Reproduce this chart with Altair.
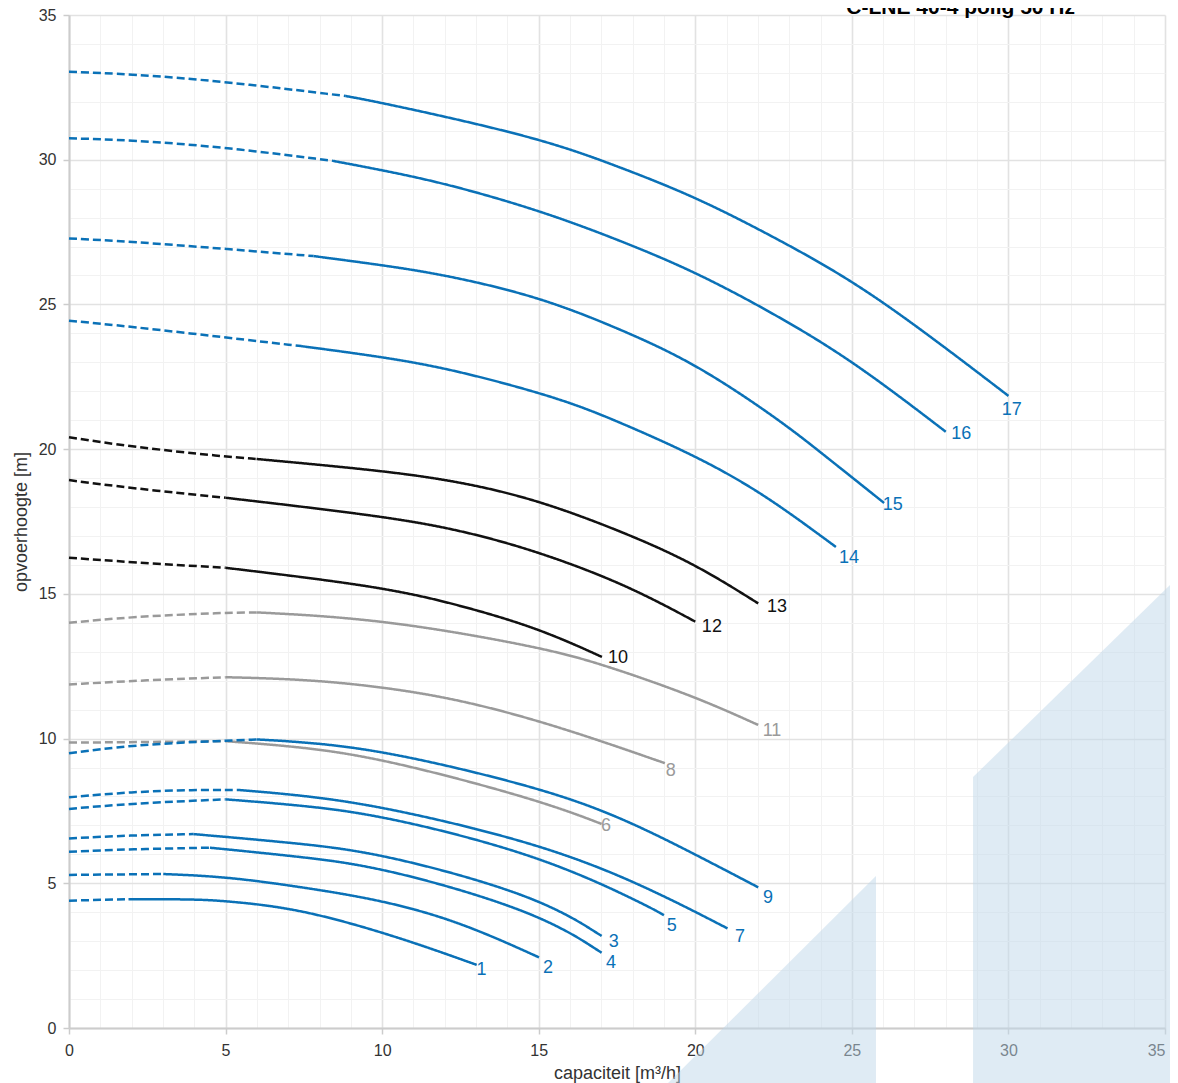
import altair as alt
import pandas as pd

# ---------------- data ----------------
title_text = "C-LNE 40-4 polig 50 Hz"

curve_ids = ["1", "2", "3", "4", "5", "6", "7", "8", "9", "10", "11", "12", "13", "14", "15", "16", "17"]
curve_group = ["blue", "blue", "blue", "blue", "blue", "gray", "blue", "gray", "blue",
               "black", "gray", "black", "black", "blue", "blue", "blue", "blue"]
dash_end = [1.9, 3.01, 3.97, 4.5, 5, 5, 5.46, 5, 5.99, 5, 5.99, 5, 5.99, 7.41, 7.81, 8.43, 8.84]

q_1 = [0, 1.9, 4, 5, 7.37, 10.57, 13.02]
h_1 = [4.40, 4.45, 4.45, 4.39, 4.13, 3.13, 2.18]
q_2 = [0, 3.01, 5, 7.37, 10, 12.49, 15.01]
h_2 = [5.29, 5.32, 5.23, 4.88, 4.42, 3.67, 2.44]
q_3 = [0, 2, 3.97, 7.37, 10, 15, 17.01]
h_3 = [6.55, 6.66, 6.70, 6.38, 6.04, 4.55, 3.18]
q_4 = [0, 2, 4.5, 7.37, 10, 15, 17.01]
h_4 = [6.09, 6.18, 6.23, 5.92, 5.57, 4.00, 2.60]
q_5 = [0, 2, 5, 7.37, 10, 15, 18.23, 19.0]
h_5 = [7.57, 7.76, 7.90, 7.70, 7.36, 5.98, 4.36, 3.90]
q_6 = [0, 2.5, 5, 7.38, 10, 15, 17.01]
h_6 = [9.86, 9.88, 9.91, 9.72, 9.32, 7.88, 7.05]
q_7 = [0, 2, 4, 5.46, 7.37, 10, 15, 18.23, 21.03]
h_7 = [7.97, 8.16, 8.23, 8.22, 8.05, 7.67, 6.38, 5.00, 3.44]
q_8 = [0, 2.5, 5, 7.5, 10, 12.59, 15.68, 19.03]
h_8 = [11.87, 12.02, 12.12, 12.05, 11.79, 11.33, 10.41, 9.15]
q_9 = [0, 2, 5, 5.99, 7.37, 10, 15, 17.6, 20, 22.01]
h_9 = [9.49, 9.78, 9.93, 9.97, 9.89, 9.61, 8.32, 7.30, 6.00, 4.86]
q_10 = [0, 2, 5, 10, 12.49, 15, 17.02]
h_10 = [16.25, 16.09, 15.90, 15.25, 14.61, 13.81, 12.82]
q_11 = [0, 2, 5, 5.99, 10, 15, 16.96, 20, 22.01]
h_11 = [14.00, 14.21, 14.35, 14.36, 14.13, 13.17, 12.60, 11.45, 10.47]
q_12 = [0, 2, 5, 10, 12.49, 15, 17.81, 20]
h_12 = [18.93, 18.65, 18.32, 17.69, 17.21, 16.46, 15.31, 14.04]
q_13 = [0, 2, 5, 5.99, 10, 12.49, 15, 17.81, 20, 22.01]
h_13 = [20.41, 20.08, 19.74, 19.66, 19.26, 18.88, 18.24, 17.09, 16.03, 14.67]
q_14 = [0, 2, 5, 7.41, 10, 12.26, 15.68, 17.44, 20, 22.07, 23.98, 24.49]
h_14 = [24.44, 24.23, 23.86, 23.56, 23.19, 22.76, 21.76, 21.00, 19.78, 18.53, 17.03, 16.62]
q_15 = [0, 2, 5, 7.81, 10, 12.03, 15, 17.56, 20, 22.7, 23.98, 26.03]
h_15 = [27.28, 27.17, 26.92, 26.67, 26.36, 26.02, 25.27, 24.17, 22.97, 21.00, 19.91, 18.14]
q_16 = [0, 2, 5, 8.43, 10, 12.03, 15, 17.56, 20, 22.5, 25, 28.0]
h_16 = [30.74, 30.68, 30.43, 29.96, 29.64, 29.18, 28.26, 27.23, 26.13, 24.69, 23.08, 20.60]
q_17 = [0, 2, 5, 8.84, 10, 15, 17.56, 20, 22.5, 25, 27.39, 30]
h_17 = [33.04, 32.96, 32.70, 32.20, 31.97, 30.77, 29.76, 28.72, 27.34, 25.84, 24.00, 21.84]

label_q = [13.17, 15.30, 17.40, 17.31, 19.25, 17.15, 21.43, 19.22, 22.32,
           17.53, 22.45, 20.53, 22.61, 24.91, 26.31, 28.49, 30.11]
label_h = [2.00, 2.07, 2.97, 2.25, 3.52, 6.98, 3.14, 8.88, 4.49,
           12.78, 10.26, 13.85, 14.55, 16.24, 18.07, 20.52, 21.35]

shade_id = ["a", "a", "b", "b"]
shade_q = [19.13, 25.77, 28.87, 35.42]
shade_top = [-1.9, 5.25, 8.67, 15.58]
shade_bottom = [-1.9, -1.9, -1.9, -1.9]

group_names = ["blue", "gray", "black"]
group_colors = ["#0a71b7", "#9a9a9a", "#111111"]

# ---------------- tables ----------------
Q = {"1": q_1, "2": q_2, "3": q_3, "4": q_4, "5": q_5, "6": q_6, "7": q_7, "8": q_8, "9": q_9,
     "10": q_10, "11": q_11, "12": q_12, "13": q_13, "14": q_14, "15": q_15, "16": q_16, "17": q_17}
H = {"1": h_1, "2": h_2, "3": h_3, "4": h_4, "5": h_5, "6": h_6, "7": h_7, "8": h_8, "9": h_9,
     "10": h_10, "11": h_11, "12": h_12, "13": h_13, "14": h_14, "15": h_15, "16": h_16, "17": h_17}

rows = []
for cid, grp, de in zip(curve_ids, curve_group, dash_end):
    for q, h in zip(Q[cid], H[cid]):
        if q <= de:
            rows.append({"curve": cid, "group": grp, "style": "dash", "seg": cid + "d", "q": q, "h": h})
        if q >= de:
            rows.append({"curve": cid, "group": grp, "style": "solid", "seg": cid + "s", "q": q, "h": h})
lines_df = pd.DataFrame(rows)

labels_df = pd.DataFrame({"label": curve_ids, "group": curve_group, "q": label_q, "h": label_h})
shade_df = pd.DataFrame({"id": shade_id, "q": shade_q, "h": shade_top, "h2": shade_bottom})
title_df = pd.DataFrame({"t": [title_text]})

FONT = "Liberation Sans, Arial, sans-serif"
major = "datum.value % 5 === 0"

def make_axis(title, title_pad, label_pad, last_right=False):
    extra = {}
    if last_right:
        extra["labelAlign"] = {"condition": {"test": "datum.value === 35", "value": "right"}, "value": "center"}
    return alt.Axis(
        values=list(range(0, 36)),
        labelExpr=f"{major} ? datum.label : ''",
        labelFlush=False,
        labelOverlap=False,
        labelFont=FONT, labelFontSize=16, labelColor="#333333", labelPadding=label_pad,
        title=title, titleFont=FONT, titleFontSize=18, titleFontWeight="normal",
        titleColor="#333333", titlePadding=title_pad,
        grid=True,
        gridColor={"condition": {"test": major, "value": "#e2e2e2"}, "value": "#f2f2f2"},
        gridWidth={"condition": {"test": major, "value": 1.6}, "value": 1.1},
        tickOpacity={"condition": {"test": major, "value": 1}, "value": 0},
        tickColor="#cccccc", tickSize=6, tickWidth=1.5,
        domainColor="#cccccc", domainWidth=2,
        **extra,
    )

x_axis = make_axis("capaciteit [m³/h]", 6, 8, last_right=True)
y_axis = make_axis("opvoerhoogte [m]", 8, 7)
xs = alt.Scale(domain=[0, 35], nice=False, zero=False)
ys = alt.Scale(domain=[0, 35], nice=False, zero=False)
X = alt.X("q:Q", scale=xs, axis=x_axis)
Y = alt.Y("h:Q", scale=ys, axis=y_axis)
color = alt.Color("group:N", scale=alt.Scale(domain=group_names, range=group_colors), legend=None)

shade = alt.Chart(shade_df).mark_area(clip=False, color="#c0d7ea", opacity=0.5).encode(
    x=X, y=Y, y2="h2:Q", detail="id:N"
)

lines = alt.Chart(lines_df).mark_line(strokeWidth=2.5, interpolate="basis").encode(
    x=X, y=Y, color=color,
    strokeDash=alt.StrokeDash("style:N", scale=alt.Scale(domain=["dash", "solid"], range=[[8, 4], [1, 0]]), legend=None),
    detail="seg:N",
    order="q:Q",
)

labels = alt.Chart(labels_df).mark_text(font=FONT, fontSize=18, align="center", baseline="middle").encode(
    x=X, y=Y, text="label:N", color=color
)

title = alt.Chart(title_df).mark_text(font=FONT, fontSize=21, fontWeight="bold", align="right",
                                      baseline="alphabetic", color="#000000").encode(
    x=alt.value(1006), y=alt.value(-1), text="t:N"
)

chart = alt.layer(shade, lines, labels, title).properties(
    width=1096, height=1013,
    autosize=alt.AutoSizeParams(type="none"),
    padding={"left": 61, "top": 7, "right": 5, "bottom": 55},
    background="white",
).configure_view(stroke=None)

chart.save("out.html", embed_options={"renderer": "svg", "actions": False})
